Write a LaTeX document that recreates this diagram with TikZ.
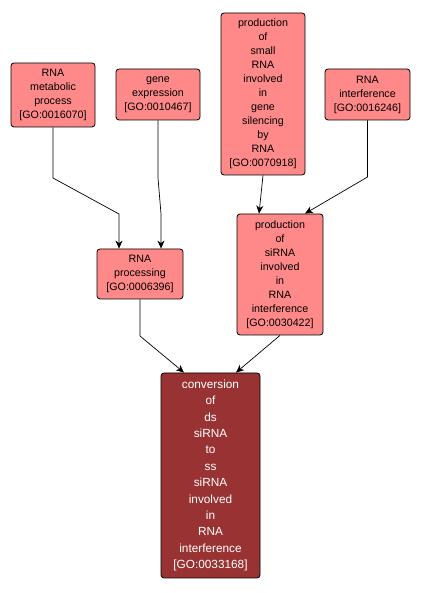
\documentclass[tikz,border=0pt]{standalone}
\usepackage{fontspec}
\setmainfont{Liberation Sans}
\usetikzlibrary{arrows.meta}
\definecolor{lightgo}{RGB}{255,137,137}
\definecolor{darkgo}{RGB}{153,51,51}
\begin{document}
\begin{tikzpicture}[x=1pt,y=1pt,
  goterm/.style={draw=black, line width=0.8pt, rounded corners=3pt, fill=lightgo,
    inner sep=0pt, align=center, font=\fontsize{10.7}{14}\selectfont},
  goedge/.style={draw=black, line width=0.7pt, -{Stealth[length=8pt,width=7pt,inset=2.5pt]}}]
\useasboundingbox[fill=white] (0,0) rectangle (421,593);
\node[goterm, minimum width=84pt, minimum height=64pt] (A) at (53,498) {RNA\\metabolic\\process\\{[GO:0016070]}};
\node[goterm, minimum width=84pt, minimum height=51pt] (B) at (158,498.5) {gene\\expression\\{[GO:0010467]}};
\node[goterm, minimum width=84pt, minimum height=162pt] (C) at (263,499) {production\\of\\small\\RNA\\involved\\in\\gene\\silencing\\by\\RNA\\{[GO:0070918]}};
\node[goterm, minimum width=85pt, minimum height=51pt] (D) at (367.5,498.5) {RNA\\interference\\{[GO:0016246]}};
\node[goterm, minimum width=86pt, minimum height=50pt] (E) at (140,319) {RNA\\processing\\{[GO:0006396]}};
\node[goterm, minimum width=86pt, minimum height=121pt] (F) at (280,318.5) {production\\of\\siRNA\\involved\\in\\RNA\\interference\\{[GO:0030422]}};
\node[goterm, fill=darkgo, text=white, font=\fontsize{11.8}{16.4}\selectfont, minimum width=99pt, minimum height=205pt] (G) at (210.5,117.5) {conversion\\of\\ds\\siRNA\\to\\ss\\siRNA\\involved\\in\\RNA\\interference\\{[GO:0033168]}};
\draw[goedge] (A.south) -- (53,415) -- (119,379) -- (E.north -| 119,0);
\draw[goedge] (B.south) -- (158,415) -- (161,379) -- (E.north -| 161,0);
\draw[goedge] (C.south) -- (F.north -| 259,0);
\draw[goedge] (D.south) -- (367.5,416) -- (F.north -| 305,0);
\draw[goedge] (E.south) -- (140,257) -- (G.north -| 184,0);
\draw[goedge] (F.south) -- (G.north -| 236,0);
\end{tikzpicture}
\end{document}
